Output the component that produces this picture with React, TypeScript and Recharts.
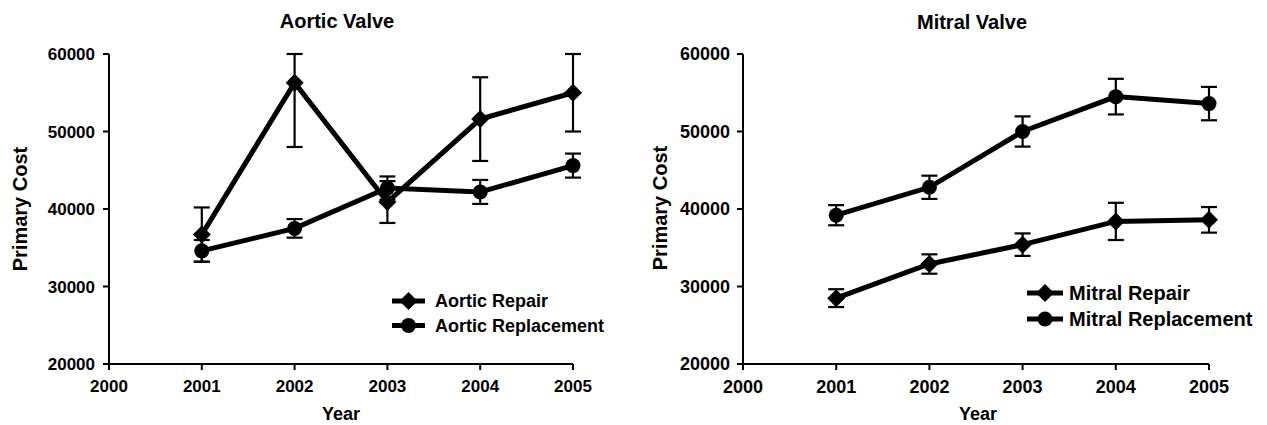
import React from 'react';
import { LineChart, Line, XAxis, YAxis, ErrorBar, Legend } from 'recharts';

const years = [2001, 2002, 2003, 2004, 2005];
const xTicks = [2000, 2001, 2002, 2003, 2004, 2005];
const yTicks = [20000, 30000, 40000, 50000, 60000];

const aorticRepair = [36700, 56300, 40900, 51600, 55000];
const aorticRepairErr: (number | number[])[] = [3500, [8300, 3700], 2700, 5400, 5000];
const aorticReplacement = [34600, 37500, 42700, 42200, 45600];
const aorticReplacementErr = [1400, 1200, 1500, 1550, 1550];

const mitralRepair = [28500, 32900, 35400, 38400, 38600];
const mitralRepairErr = [1150, 1250, 1450, 2400, 1650];
const mitralReplacement = [39200, 42800, 50000, 54500, 53600];
const mitralReplacementErr = [1300, 1500, 1950, 2300, 2150];

const FONT = '"Liberation Sans", Arial, Helvetica, sans-serif';

const aorticData = years.map((year, i) => ({
  year,
  repair: aorticRepair[i],
  repairErr: aorticRepairErr[i],
  replacement: aorticReplacement[i],
  replacementErr: aorticReplacementErr[i],
}));

const mitralData = years.map((year, i) => ({
  year,
  repair: mitralRepair[i],
  repairErr: mitralRepairErr[i],
  replacement: mitralReplacement[i],
  replacementErr: mitralReplacementErr[i],
}));

const DiamondDot = (props: any) => {
  const { cx, cy, index } = props;
  if (cx == null || cy == null) return <g key={`dd${index}`} />;
  const s = 9;
  return (
    <polygon
      key={`dd${index}`}
      points={`${cx},${cy - s} ${cx + s},${cy} ${cx},${cy + s} ${cx - s},${cy}`}
      fill="#000"
    />
  );
};

const CircleDot = (props: any) => {
  const { cx, cy, index } = props;
  if (cx == null || cy == null) return <g key={`cd${index}`} />;
  return <circle key={`cd${index}`} cx={cx} cy={cy} r={7.5} fill="#000" />;
};

const makeLegend = (fontSize: number, lineLen: number, rowGap: number, textGap: number) => (props: any) => {
  const payload = props.payload || [];
  return (
    <svg width={280} height={70} style={{ display: 'block', overflow: 'visible' }}>
      {payload.map((entry: any, i: number) => {
        const y = 12 + i * rowGap;
        const mid = lineLen / 2;
        const isRepair = entry.dataKey === 'repair';
        const s = 9;
        return (
          <g key={`lg${i}`}>
            <line x1={0} x2={lineLen} y1={y} y2={y} stroke="#000" strokeWidth={5} />
            {isRepair ? (
              <polygon points={`${mid},${y - s} ${mid + s},${y} ${mid},${y + s} ${mid - s},${y}`} fill="#000" />
            ) : (
              <circle cx={mid} cy={y} r={7.5} fill="#000" />
            )}
            <text
              x={lineLen + textGap}
              y={y + fontSize * 0.36}
              fontSize={fontSize}
              fontWeight="bold"
              fontFamily={FONT}
              fill="#000"
            >
              {entry.value}
            </text>
          </g>
        );
      })}
    </svg>
  );
};

type PanelProps = {
  left: number;
  width: number;
  data: any[];
  title: string;
  repairName: string;
  replacementName: string;
  margin: { top: number; right: number; bottom: number; left: number };
  tickFont: number;
  legendFont: number;
  legendPos: { left: number; top: number };
  legendLine: number;
  legendGap: number;
  legendTextGap: number;
  titleX: number;
  titleY: number;
  yLabelX: number;
  yLabelY: number;
  xLabelX: number;
  tickMarginY: number;
};

const Panel = (p: PanelProps) => {
  const tickStyle = { fontSize: p.tickFont, fontWeight: 'bold', fontFamily: FONT, fill: '#000' };
  return (
    <div style={{ position: 'absolute', left: p.left, top: 0, width: p.width, height: 425 }}>
      <LineChart width={p.width} height={425} data={p.data} margin={p.margin}>
        <XAxis
          dataKey="year"
          type="number"
          domain={[2000, 2005]}
          ticks={xTicks}
          interval={0}
          height={40}
          tickSize={6}
          tickMargin={10}
          tick={tickStyle}
          axisLine={{ stroke: '#000', strokeWidth: 2 }}
          tickLine={{ stroke: '#000', strokeWidth: 2 }}
        />
        <YAxis
          type="number"
          domain={[20000, 60000]}
          ticks={yTicks}
          interval={0}
          width={80}
          tickSize={6}
          tickMargin={p.tickMarginY}
          tick={tickStyle}
          axisLine={{ stroke: '#000', strokeWidth: 2 }}
          tickLine={{ stroke: '#000', strokeWidth: 2 }}
        />
        <Line
          dataKey="repair"
          name={p.repairName}
          stroke="#000"
          strokeWidth={5}
          dot={DiamondDot}
          activeDot={false}
          isAnimationActive={false}
        >
          <ErrorBar dataKey="repairErr" direction="y" width={8} stroke="#000" strokeWidth={2.2} />
        </Line>
        <Line
          dataKey="replacement"
          name={p.replacementName}
          stroke="#000"
          strokeWidth={5}
          dot={CircleDot}
          activeDot={false}
          isAnimationActive={false}
        >
          <ErrorBar dataKey="replacementErr" direction="y" width={8} stroke="#000" strokeWidth={2.2} />
        </Line>
        <Legend
          layout="vertical"
          align="center"
          verticalAlign="middle"
          content={makeLegend(p.legendFont, p.legendLine, p.legendGap, p.legendTextGap)}
          wrapperStyle={{ position: 'absolute', left: p.legendPos.left, top: p.legendPos.top, width: 280, height: 70 }}
        />
      </LineChart>
      <svg
        width={p.width}
        height={425}
        style={{ position: 'absolute', left: 0, top: 0, pointerEvents: 'none' }}
      >
        <text x={p.titleX} y={p.titleY} textAnchor="middle" fontSize={20} fontWeight="bold" fontFamily={FONT} fill="#000">
          {p.title}
        </text>
        <text
          x={p.yLabelX}
          y={p.yLabelY}
          textAnchor="middle"
          fontSize={20}
          fontWeight="bold"
          fontFamily={FONT}
          fill="#000"
          transform={`rotate(-90 ${p.yLabelX} ${p.yLabelY})`}
        >
          Primary Cost
        </text>
        <text x={p.xLabelX} y={420} textAnchor="middle" fontSize={18} fontWeight="bold" fontFamily={FONT} fill="#000">
          Year
        </text>
      </svg>
    </div>
  );
};

export default function App() {
  return (
    <div style={{ position: 'absolute', left: 0, top: 0, width: 1267, height: 425, background: '#fff', overflow: 'hidden' }}>
      <Panel
        left={0}
        width={630}
        data={aorticData}
        title="Aortic Valve"
        repairName="Aortic Repair"
        replacementName="Aortic Replacement"
        margin={{ top: 54, right: 57, bottom: 21, left: 29 }}
        tickFont={17}
        legendFont={18}
        legendPos={{ left: 392, top: 289 }}
        legendLine={33}
        legendGap={24.5}
        legendTextGap={10}
        titleX={337}
        titleY={28}
        yLabelX={27}
        yLabelY={209}
        xLabelX={341}
        tickMarginY={8}
      />
      <Panel
        left={630}
        width={637}
        data={mitralData}
        title="Mitral Valve"
        repairName="Mitral Repair"
        replacementName="Mitral Replacement"
        margin={{ top: 54, right: 58, bottom: 21, left: 33 }}
        tickFont={18}
        legendFont={20}
        legendPos={{ left: 397, top: 281 }}
        legendLine={36}
        legendGap={26}
        legendTextGap={6}
        titleX={342}
        titleY={29}
        yLabelX={37}
        yLabelY={208}
        xLabelX={348}
        tickMarginY={7}
      />
    </div>
  );
}
